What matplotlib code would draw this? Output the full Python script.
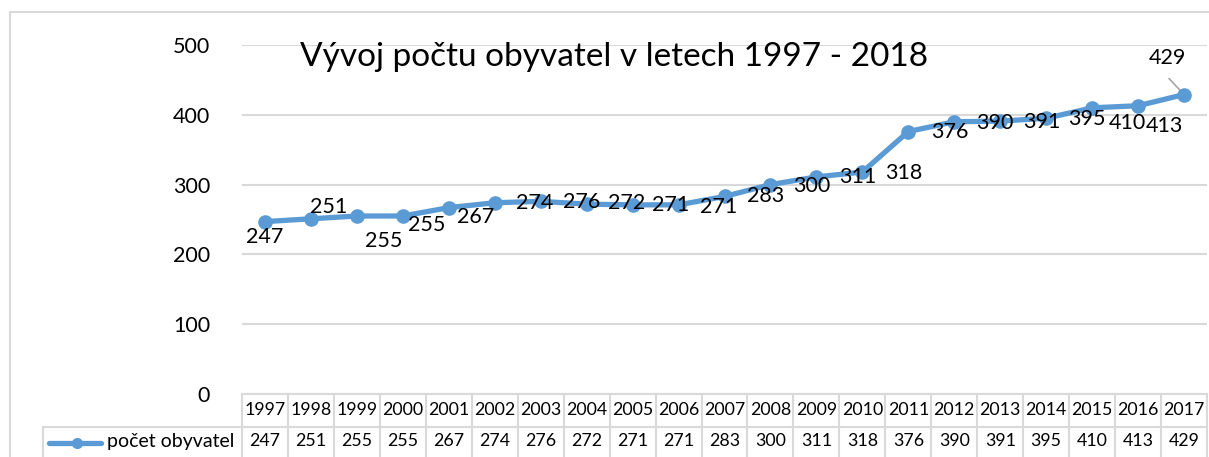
import matplotlib
matplotlib.use("Agg")
import matplotlib.pyplot as plt
from matplotlib.transforms import blended_transform_factory
from matplotlib.lines import Line2D

# ---- data ----
years = ["1997", "1998", "1999", "2000", "2001", "2002", "2003", "2004", "2005", "2006",
         "2007", "2008", "2009", "2010", "2011", "2012", "2013", "2014", "2015", "2016", "2017"]
population = [247, 251, 255, 255, 267, 274, 276, 272, 271, 271,
              283, 300, 311, 318, 376, 390, 391, 395, 410, 413, 429]
series_name = "počet obyvatel"
title = "Vývoj počtu obyvatel v letech 1997 - 2018"
y_ticks = [0, 100, 200, 300, 400, 500]

# label offsets (pixels, dx right, dy up) mimicking the hand-placed Excel labels
label_offsets = [(0, -15), (18, 12), (27, -25), (24, -9), (27, -9), (40, 0), (41, -1),
                 (40, 1), (38, 0), (40, -2), (41, 0), (41, -1), (41, 0), (41, -1),
                 (41, 0), (41, -1), (42, -1), (41, -1), (35, -15), (26, -20), (-17, 37)]

W, H = 1209, 457
FONT = "Lato"
BLUE = "#5B9BD5"
GRID = "#D9D9D9"

plt.rcParams['font.family'] = [FONT, 'DejaVu Sans']

fig = plt.figure(figsize=(W / 100, H / 100), dpi=100)

# plot area in pixel coords
left_px, right_px, top_px, bottom_px = 242, 1207, 45, 394
ax = fig.add_axes([left_px / W, 1 - bottom_px / H, (right_px - left_px) / W, (bottom_px - top_px) / H])

x = list(range(len(years)))
ax.plot(x, population, color=BLUE, lw=3.8, marker='o', ms=9.5, solid_capstyle='round',
        zorder=3, clip_on=False)

ax.set_xlim(-0.5, len(years) - 0.5)
ax.set_ylim(0, 500)
ax.set_yticks(y_ticks)
ax.set_yticklabels([str(t) for t in y_ticks], fontsize=15.5, color='black')
ax.set_xticks([])
ax.tick_params(axis='y', length=0, pad=23)
for s in ax.spines.values():
    s.set_visible(False)
ax.grid(axis='y', color=GRID, lw=1.5)
ax.set_axisbelow(True)

# data labels
for i, (v, (dx, dy)) in enumerate(zip(population, label_offsets)):
    ax.annotate(str(v), (i, v), xytext=(dx, dy), textcoords='offset pixels',
                ha='center', va='center', fontsize=15.5, color='black', zorder=4,
                annotation_clip=False)
# leader line for last label
last = len(population) - 1
ax.annotate("", (last, population[last]), xytext=(-15, 16), textcoords='offset pixels',
            arrowprops=dict(arrowstyle='-', color='#A6A6A6', lw=1.2, shrinkA=0, shrinkB=0),
            annotation_clip=False, zorder=2)

# title
fig.text(300 / W, 1 - 57 / H, title, fontsize=24, ha='left', va='center', color='black')

# outer chart frame (top/left)
fig.add_artist(Line2D([9.5 / W, 1], [1 - 11.5 / H, 1 - 11.5 / H], transform=fig.transFigure,
                      color=GRID, lw=1.5))
fig.add_artist(Line2D([9.5 / W, 9.5 / W], [1 - 11.5 / H, 0], transform=fig.transFigure,
                      color=GRID, lw=1.5))

# ---- data table ----
tr = blended_transform_factory(ax.transData, fig.transFigure)
row1_top, row1_bot, row2_bot = 394, 427, 470
fy = lambda p: 1 - p / H
n = len(years)
# horizontal lines
fig.add_artist(Line2D([-0.5, n - 0.5], [fy(row1_top)] * 2, transform=tr, color=GRID, lw=1.5))
fig.add_artist(Line2D([-0.5, n - 0.5], [fy(row1_bot)] * 2, transform=tr, color=GRID, lw=1.5))
fig.add_artist(Line2D([43 / W, left_px / W], [fy(row1_bot)] * 2, transform=fig.transFigure,
                      color=GRID, lw=1.5))
fig.add_artist(Line2D([43 / W, 43 / W], [fy(row1_bot), fy(row2_bot)], transform=fig.transFigure,
                      color=GRID, lw=1.5))
# vertical lines
for i in range(n + 1):
    fig.add_artist(Line2D([i - 0.5, i - 0.5], [fy(row1_top), fy(row2_bot)], transform=tr,
                          color=GRID, lw=1.5))
for i, (yr, v) in enumerate(zip(years, population)):
    fig.text(i, fy(410), yr, transform=tr, ha='center', va='center', fontsize=12.8, color='black')
    fig.text(i, fy(441), str(v), transform=tr, ha='center', va='center', fontsize=12.8, color='black')
# legend key
fig.add_artist(Line2D([49 / W, 101 / W], [fy(443)] * 2, transform=fig.transFigure,
                      color=BLUE, lw=3.8, solid_capstyle='round'))
fig.add_artist(Line2D([77 / W], [fy(443)], transform=fig.transFigure, color=BLUE,
                      marker='o', ms=7, lw=0))
fig.text(107 / W, fy(441), series_name, ha='left', va='center', fontsize=14, color='black')

fig.savefig("out.png", dpi=100)
